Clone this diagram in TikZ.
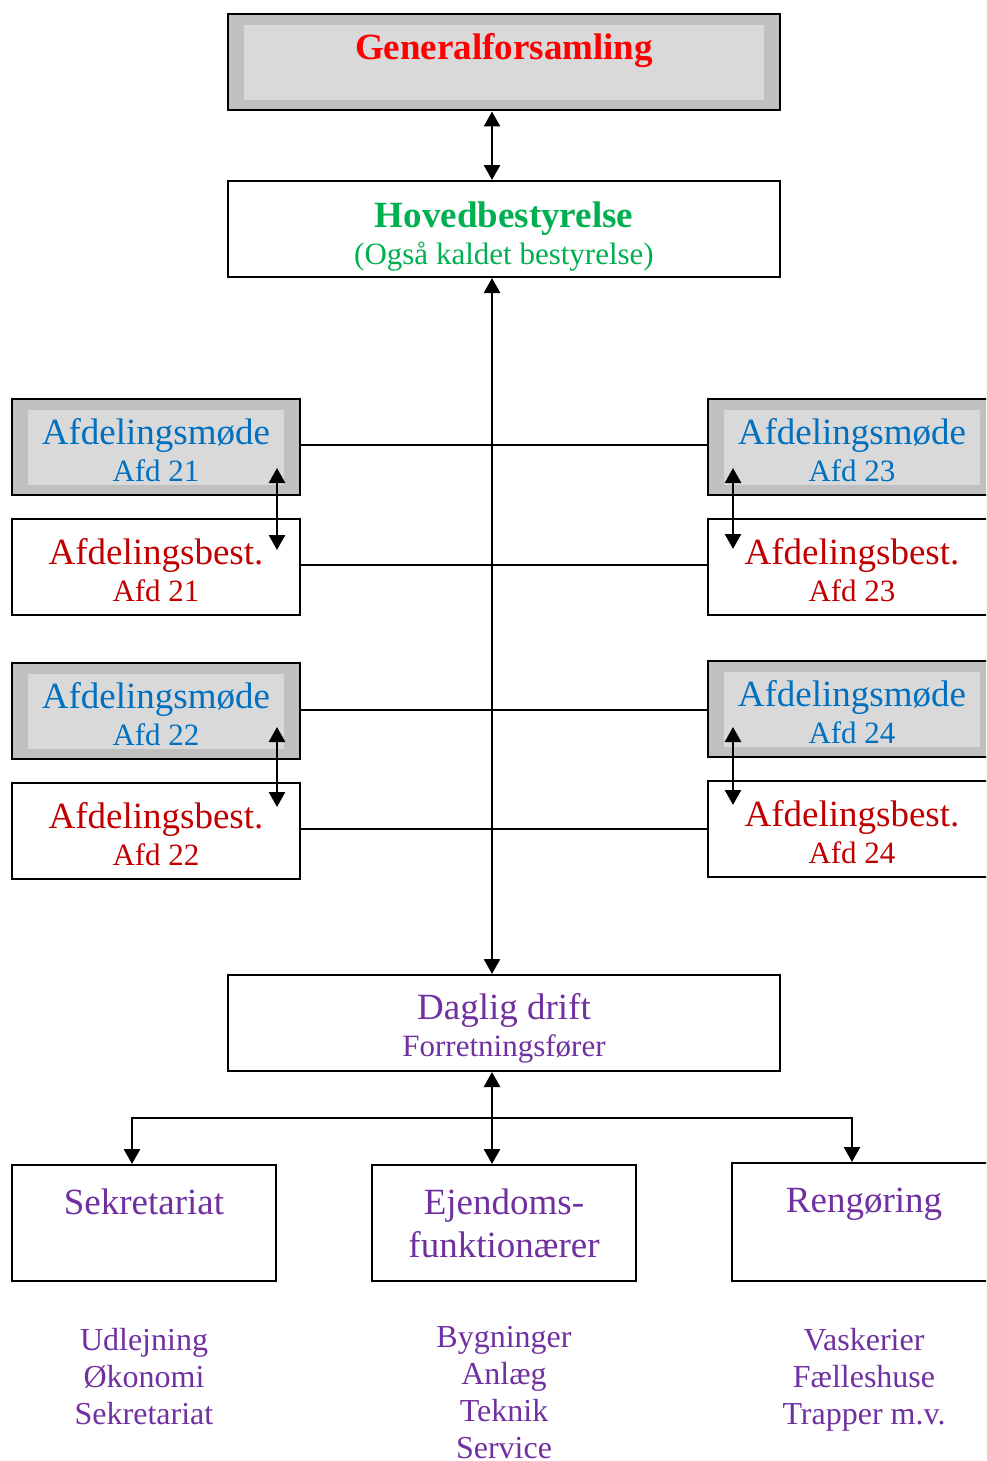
\documentclass[tikz,border=0pt]{standalone}
\usepackage{fontspec}
\setmainfont{Liberation Serif}
\usetikzlibrary{arrows.meta}

\newlength{\du}
\setlength{\du}{1pt}

\definecolor{genred}{rgb}{1.000000, 0.000000, 0.000000}
\definecolor{hovgreen}{rgb}{0.000000, 0.690196, 0.313725}
\definecolor{moedeblue}{rgb}{0.000000, 0.439216, 0.752941}
\definecolor{bestred}{rgb}{0.752941, 0.000000, 0.000000}
\definecolor{driftpurple}{rgb}{0.439216, 0.188235, 0.627451}
\definecolor{outergray}{rgb}{0.752941, 0.752941, 0.752941}
\definecolor{innergray}{rgb}{0.850980, 0.850980, 0.850980}

\newcommand{\storfont}{\fontsize{37}{37}\selectfont}
\newcommand{\lillefont}{\fontsize{31}{37}\selectfont}
% invisible strut on the first line, lowers the text block a little
\newcommand{\luft}[1]{\rule{0pt}{#1\du}}

\tikzset{
  box/.style={draw=black, line width=2\du, fill=white, minimum width=288\du,
    minimum height=96\du, inner sep=0pt, align=center, font=\storfont},
  widebox/.style={box, minimum width=552\du},
  smallbox/.style={box, minimum width=264\du, minimum height=116\du,
    text=driftpurple, font=\fontsize{37}{43}\selectfont},
  graybox/.style={box, fill=outergray, path picture={
    \fill[innergray] ([xshift=16\du,yshift=-10.5\du]path picture bounding box.north west)
      rectangle ([xshift=-16\du,yshift=10.5\du]path picture bounding box.south east);}},
  moede/.style={graybox, text=moedeblue},
  best/.style={box, text=bestred},
  liste/.style={anchor=north, inner sep=0pt, align=center, text=driftpurple,
    font=\fontsize{32}{37}\selectfont},
  linje/.style={draw=black, line width=2\du},
  pil/.style={linje, line width=2.5\du, {Triangle[width=16pt,length=15pt]}-{Triangle[width=16pt,length=15pt]}},
  enkelpil/.style={linje, line width=2.5\du, -{Triangle[width=16pt,length=15pt]}}
}

\begin{document}
\begin{tikzpicture}
\path[use as bounding box, clip] (0\du,0\du) rectangle (986\du,-1461\du);

% top
\node[graybox, minimum width=552\du, text=genred, font=\storfont\bfseries] (genfors) at (504\du,-62.5\du)
  {\luft{31}Generalforsamling\\ \mbox{}};
\node[widebox, text=hovgreen] (hoved) at (504\du,-229\du)
  {\luft{41}\textbf{Hovedbestyrelse}\\{\lillefont (Også kaldet bestyrelse)}};

% afdelinger
\node[moede] (moede21) at (156\du,-447\du) {\luft{33}Afdelingsmøde\\{\lillefont Afd 21}};
\node[best] (best21) at (156\du,-567\du) {\luft{33}Afdelingsbest.\\{\lillefont Afd 21}};
\node[moede] (moede22) at (156\du,-711\du) {\luft{33}Afdelingsmøde\\{\lillefont Afd 22}};
\node[best] (best22) at (156\du,-831\du) {\luft{33}Afdelingsbest.\\{\lillefont Afd 22}};
\node[moede] (moede23) at (852\du,-447\du) {\luft{33}Afdelingsmøde\\{\lillefont Afd 23}};
\node[best] (best23) at (852\du,-567\du) {\luft{33}Afdelingsbest.\\{\lillefont Afd 23}};
\node[moede] (moede24) at (852\du,-709\du) {\luft{33}Afdelingsmøde\\{\lillefont Afd 24}};
\node[best] (best24) at (852\du,-829\du) {\luft{33}Afdelingsbest.\\{\lillefont Afd 24}};

% daglig drift
\node[widebox, text=driftpurple] (drift) at (504\du,-1023\du)
  {\luft{37}Daglig drift\\{\lillefont Forretningsfører}};
\node[smallbox] (sekr) at (144\du,-1223\du) {Sekretariat\\ \mbox{}};
\node[smallbox] (ejendom) at (504\du,-1223\du) {Ejendoms-\\funktionærer};
\node[smallbox, minimum height=118\du] (rengoer) at (864\du,-1222\du) {Rengøring\\ \mbox{}};

\node[liste] (sekrliste) at (144\du,-1328\du) {Udlejning\\Økonomi\\Sekretariat};
\node[liste] (ejendomliste) at (504\du,-1326\du) {Bygninger\\Anlæg\\Teknik\\Service};
\node[liste] (rengoerliste) at (864\du,-1328\du) {Vaskerier\\Fælleshuse\\Trapper m.v.};

\coordinate (spine) at (492\du,-600\du);
\coordinate (fork) at (492\du,-1118\du);

\draw[pil] (genfors.south -| spine) -- (hoved.north -| spine);
\draw[pil] (hoved.south -| spine) -- (drift.north -| spine);

\draw[linje] ([yshift=2\du]moede21.east) -- ([yshift=2\du]moede21.east -| moede23.west);
\draw[linje] ([yshift=2\du]best21.east) -- ([yshift=2\du]best21.east -| best23.west);
\draw[linje] ([yshift=1\du]moede22.east) -- ([yshift=1\du]moede22.east -| moede24.west);
\draw[linje] ([yshift=2\du]best22.east) -- ([yshift=2\du]best22.east -| best24.west);

\draw[pil] ([xshift=121\du,yshift=28\du]moede21.south) -- ([xshift=121\du,yshift=-32\du]best21.north);
\draw[pil] ([xshift=121\du,yshift=33\du]moede22.south) -- ([xshift=121\du,yshift=-25\du]best22.north);
\draw[pil] ([xshift=-119\du,yshift=28\du]moede23.south) -- ([xshift=-119\du,yshift=-31\du]best23.north);
\draw[pil] ([xshift=-119\du,yshift=31\du]moede24.south) -- ([xshift=-119\du,yshift=-25\du]best24.north);

\draw[pil] (drift.south -| spine) -- (ejendom.north -| spine);
\draw[enkelpil] (fork) -| ([xshift=-12\du]sekr.north);
\draw[enkelpil] (fork) -| ([xshift=-12\du]rengoer.north);
\end{tikzpicture}
\end{document}
